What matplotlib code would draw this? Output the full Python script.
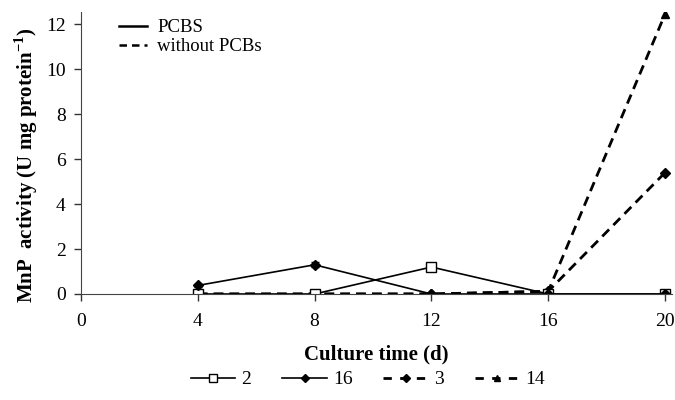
import matplotlib.pyplot as plt
from matplotlib.lines import Line2D

plt.rcParams['font.family'] = ['Liberation Serif', 'DejaVu Serif']
plt.rcParams['mathtext.fontset'] = 'custom'
plt.rcParams['mathtext.rm'] = 'Liberation Serif'
plt.rcParams['mathtext.bf'] = 'Liberation Serif:bold'

# culture time (d)
days = [4, 8, 12, 16, 20]

# MnP activity per series
s2 = [0.0, 0.0, 1.2, 0.0, 0.0]
s16 = [0.38, 1.3, 0.0, 0.0, 0.0]
s3 = [0.0, 0.0, 0.0, 0.12, 5.4]
s14 = [0.0, 0.0, 0.0, 0.12, 12.45]
s16_err = [0.05, 0.12, 0.0, 0.0, 0.0]

fig = plt.figure(figsize=(6.75, 4), dpi=100)
ax = fig.add_axes([0.12, 0.265, 0.876, 0.705])

dash = (0, (3.5, 2.2))
ax.plot(days, s14, color='black', lw=2.0, linestyle=dash, marker='^', ms=6)
ax.plot(days, s3, color='black', lw=2.0, linestyle=dash, marker='D', ms=5)
ax.errorbar(days, s16, yerr=s16_err, color='black', lw=1.2, marker='D', ms=5,
            capsize=3)
ax.plot(days, s2, color='black', lw=1.2, marker='s', ms=7, mfc='white', mew=1.0)

ax.set_xlim(0, 20.25)
ax.set_ylim(0, 12.55)
ax.set_xticks([0, 4, 8, 12, 16, 20])
ax.set_yticks([0, 2, 4, 6, 8, 10, 12])
ax.tick_params(labelsize=14, direction='out', length=5, width=1, colors='#333333')
ax.tick_params(axis='x', pad=9)
ax.tick_params(axis='y', pad=6)
for lab in ax.get_xticklabels() + ax.get_yticklabels():
    lab.set_color('black')
ax.spines['top'].set_visible(False)
ax.spines['right'].set_visible(False)
ax.spines['left'].set_color('#444444')
ax.spines['bottom'].set_color('#444444')

ax.set_xlabel('Culture time (d)', fontsize=15, fontweight='bold', labelpad=10)
ax.set_ylabel('MnP  activity (U mg protein$^{\\mathbf{-1}}$)', fontsize=15,
              fontweight='bold')
ax.yaxis.set_label_coords(-0.07, 0.455)

# legend of line styles inside the axes
style_handles = [Line2D([], [], color='black', lw=1.8),
                 Line2D([], [], color='black', lw=1.8, linestyle=(0, (3, 2)))]
ax.legend(style_handles, ['PCBS', 'without PCBs'], loc='upper left',
          bbox_to_anchor=(0.035, 1.035), frameon=False, fontsize=13.5,
          handlelength=1.5, handletextpad=0.55, labelspacing=0.1)

# series legend below
series_handles = [
    Line2D([], [], color='black', lw=1.2, marker='s', ms=6, mfc='white', mew=1.0),
    Line2D([], [], color='black', lw=1.2, marker='D', ms=4),
    Line2D([], [], color='black', lw=2.0, linestyle=(0, (3, 3)), marker='D', ms=4),
    Line2D([], [], color='black', lw=2.0, linestyle=(0, (3, 3)), marker='^', ms=5),
]
fig.legend(series_handles, ['2', '16', '3', '14'], loc='lower center',
           bbox_to_anchor=(0.545, -0.015), ncol=4, frameon=False, fontsize=14,
           handlelength=2.3, handletextpad=0.3, columnspacing=1.6)

fig.savefig('out.png', dpi=100)
